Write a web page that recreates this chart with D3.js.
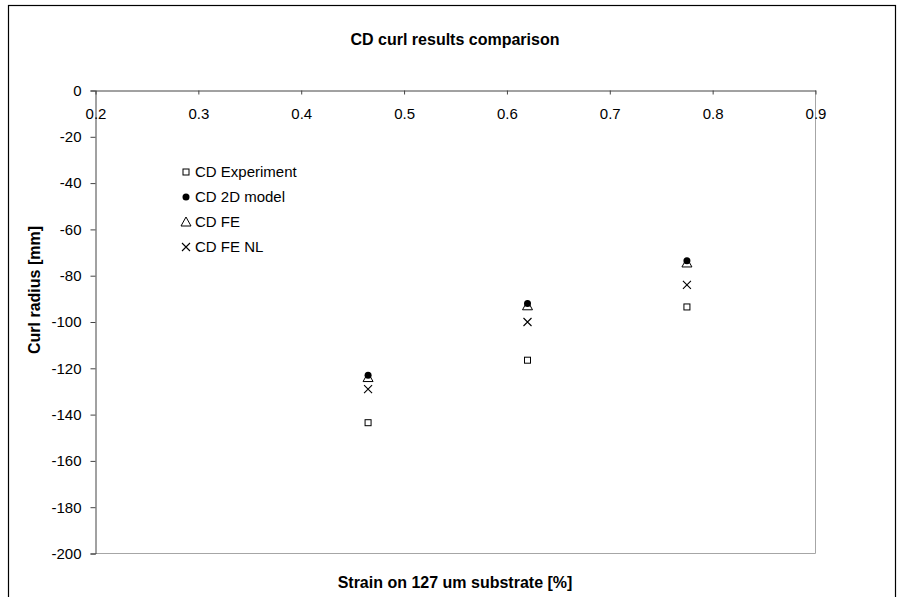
<!DOCTYPE html>
<html>
<head>
<meta charset="utf-8">
<script src="https://d3js.org/d3.v7.min.js"></script>
<style>
  body { margin: 0; background: #fff; }
  text { font-family: "Liberation Sans", Arial, sans-serif; }
</style>
</head>
<body>
<div id="chart"></div>
<script>
// dane
var strain = [0.465, 0.62, 0.775]
var experiment = [-143.5, -116.5, -93.5]
var model2d = [-123, -92, -73.5]
var fe = [-124, -93, -74.5]
var feNL = [-129, -100, -84]
var xTicks = [0.2, 0.3, 0.4, 0.5, 0.6, 0.7, 0.8, 0.9]
var yTicks = [0, -20, -40, -60, -80, -100, -120, -140, -160, -180, -200]

var width = 904, height = 597

var svg = d3.select("#chart").append("svg")
  .attr("width", width)
  .attr("height", height)

// ramka wykresu
svg.append("rect")
  .attr("x", 8.5).attr("y", 5.5)
  .attr("width", 887).attr("height", 600)
  .attr("fill", "none").attr("stroke", "#000").attr("stroke-width", 1.2)

var x = d3.scaleLinear().domain([0.2, 0.9]).range([95.5, 815.5])
var y = d3.scaleLinear().domain([0, -200]).range([90.5, 553.5])

// obramowanie obszaru danych (prawa i dolna krawędź)
svg.append("path")
  .attr("d", "M" + x(0.9) + "," + y(0) + "V" + y(-200) + "H" + x(0.2))
  .attr("fill", "none").attr("stroke", "#a6a6a6")

// oś Y - zwykły minus (łącznik), jak w oryginale
var yAxis = svg.append("g")
  .attr("transform", "translate(" + x(0.2) + ",0)")
  .call(d3.axisLeft(y).tickValues(yTicks).tickSize(5).tickPadding(9).tickFormat(function(d) { return String(d) }))
yAxis.select(".domain").attr("stroke", "#444")
yAxis.selectAll(".tick line").attr("stroke", "#444")
yAxis.selectAll("text").attr("font-size", 15).attr("fill", "#000")

// oś X (na górze, przy y = 0), kreski do środka
var xAxis = svg.append("g")
  .attr("transform", "translate(0," + y(0) + ")")
  .call(d3.axisBottom(x).tickValues(xTicks).tickSizeInner(4).tickSizeOuter(0).tickPadding(14).tickFormat(d3.format(".1f")))
xAxis.select(".domain").attr("stroke", "#444")
xAxis.selectAll(".tick line").attr("stroke", "#444")
xAxis.selectAll("text").attr("font-size", 15).attr("fill", "#000")

// tytuł i opisy osi
svg.append("text")
  .attr("x", 455).attr("y", 45)
  .attr("text-anchor", "middle")
  .attr("font-size", 16).attr("font-weight", "bold")
  .text("CD curl results comparison")

svg.append("text")
  .attr("x", 455).attr("y", 588)
  .attr("text-anchor", "middle")
  .attr("font-size", 16).attr("font-weight", "bold")
  .text("Strain on 127 um substrate [%]")

svg.append("text")
  .attr("transform", "translate(40,290) rotate(-90)")
  .attr("text-anchor", "middle")
  .attr("font-size", 16).attr("font-weight", "bold")
  .text("Curl radius [mm]")

// markery
var series = [
  { name: "CD Experiment", values: experiment, type: "square" },
  { name: "CD 2D model", values: model2d, type: "circle" },
  { name: "CD FE", values: fe, type: "triangle" },
  { name: "CD FE NL", values: feNL, type: "cross" }
]

function drawMarker(g, type) {
  if (type === "square") {
    g.append("rect").attr("x", -3).attr("y", -3).attr("width", 6).attr("height", 6)
      .attr("fill", "#fff").attr("stroke", "#000").attr("stroke-width", 1)
  } else if (type === "circle") {
    g.append("circle").attr("r", 3.5).attr("fill", "#000")
  } else if (type === "triangle") {
    g.append("path").attr("d", "M0,-5L5,4H-5Z")
      .attr("fill", "none").attr("stroke", "#000").attr("stroke-width", 1)
  } else {
    g.append("path").attr("d", "M-4,-4L4,4M-4,4L4,-4")
      .attr("stroke", "#000").attr("stroke-width", 1.1)
  }
}

series.forEach(function(s) {
  s.values.forEach(function(v, i) {
    var g = svg.append("g").attr("transform", "translate(" + x(strain[i]) + "," + y(v) + ")")
    drawMarker(g, s.type)
  })
})

// legenda
var legend = svg.selectAll(".legend")
  .data(series)
  .enter().append("g")
  .attr("class", "legend")
  .attr("transform", function(d, i) { return "translate(186," + (172 + i * 25) + ")" })

legend.each(function(d) { drawMarker(d3.select(this), d.type) })

legend.append("text")
  .attr("x", 9).attr("y", 0).attr("dy", "0.35em")
  .attr("font-size", 15)
  .text(function(d) { return d.name })
</script>
</body>
</html>
